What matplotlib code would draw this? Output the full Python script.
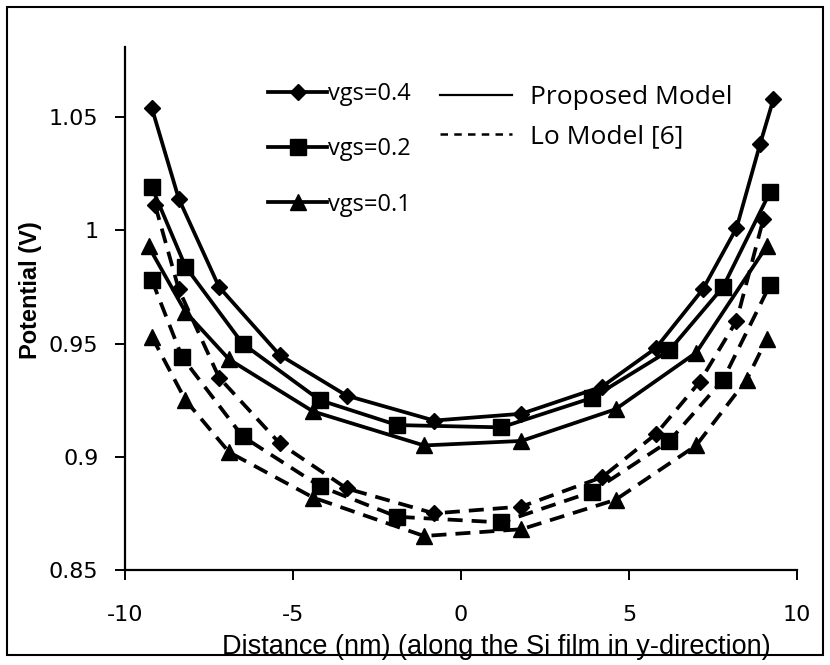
import matplotlib
matplotlib.use("Agg")
import matplotlib.pyplot as plt
from matplotlib.lines import Line2D
from matplotlib.patches import Rectangle

# Proposed model (solid lines)
p04_x = [-9.2, -8.4, -7.2, -5.4, -3.4, -0.8, 1.8, 4.2, 5.8, 7.2, 8.2, 8.9, 9.3]
p04_y = [1.054, 1.014, 0.975, 0.945, 0.927, 0.916, 0.919, 0.931, 0.948, 0.974, 1.001, 1.038, 1.058]
p02_x = [-9.2, -8.2, -6.5, -4.2, -1.9, 1.2, 3.9, 6.2, 7.8, 9.2]
p02_y = [1.019, 0.984, 0.950, 0.925, 0.914, 0.913, 0.926, 0.947, 0.975, 1.017]
p01_x = [-9.3, -8.2, -6.9, -4.4, -1.1, 1.8, 4.6, 7.0, 9.1]
p01_y = [0.993, 0.964, 0.943, 0.920, 0.905, 0.907, 0.921, 0.946, 0.993]

# Lo model [6] (dashed lines)
l04_x = [-9.1, -8.4, -7.2, -5.4, -3.4, -0.8, 1.8, 4.2, 5.8, 7.1, 8.2, 9.0]
l04_y = [1.011, 0.974, 0.935, 0.906, 0.886, 0.875, 0.878, 0.891, 0.910, 0.933, 0.960, 1.005]
l02_x = [-9.2, -8.3, -6.5, -4.2, -1.9, 1.2, 3.9, 6.2, 7.8, 9.2]
l02_y = [0.978, 0.944, 0.909, 0.887, 0.8735, 0.871, 0.8845, 0.907, 0.934, 0.976]
l01_x = [-9.2, -8.2, -6.9, -4.4, -1.1, 1.8, 4.6, 7.0, 8.5, 9.1]
l01_y = [0.953, 0.925, 0.902, 0.882, 0.865, 0.868, 0.881, 0.905, 0.934, 0.952]

vgs_labels = ["vgs=0.4", "vgs=0.2", "vgs=0.1"]
model_labels = ["Proposed Model", "Lo Model [6]"]
x_ticks = [-10, -5, 0, 5, 10]
y_ticks = [0.85, 0.9, 0.95, 1.0, 1.05]
y_ticklabels = ["0.85", "0.9", "0.95", "1", "1.05"]

markers = {"D": 8.5, "s": 12, "^": 12}
LW = 2.7
DASH = (4, 2.4)

fig = plt.figure(figsize=(8.3, 6.65), dpi=100)
ax = fig.add_axes([0.1506, 0.1429, 0.8096, 0.7864])

solid = [(p04_x, p04_y, "D"), (p02_x, p02_y, "s"), (p01_x, p01_y, "^")]
dashed = [(l04_x, l04_y, "D"), (l02_x, l02_y, "s"), (l01_x, l01_y, "^")]

for xs, ys, m in dashed:
    ax.plot(xs, ys, color="black", lw=LW, linestyle=(0, DASH),
            marker=m, markersize=markers[m], markerfacecolor="black",
            markeredgecolor="black")
for xs, ys, m in solid:
    ax.plot(xs, ys, color="black", lw=LW, marker=m,
            markersize=markers[m], markerfacecolor="black",
            markeredgecolor="black")

ax.set_xlim(-10, 10)
ax.set_ylim(0.85, 1.081)
ax.set_xticks(x_ticks)
ax.set_xticklabels([str(t) for t in x_ticks])
ax.set_yticks(y_ticks)
ax.set_yticklabels(y_ticklabels)

for s in ["top", "right"]:
    ax.spines[s].set_visible(False)
for s in ["left", "bottom"]:
    ax.spines[s].set_linewidth(1.6)

ax.tick_params(axis="both", direction="out", length=7, width=1.4,
               labelsize=16)
ax.tick_params(axis="y", pad=12)
ax.tick_params(axis="x", pad=18)
for lab in ax.get_xticklabels() + ax.get_yticklabels():
    lab.set_family("DejaVu Sans")

ax.set_ylabel("Potential (V)", fontsize=17, fontweight="bold",
              family="Liberation Sans")
ax.yaxis.set_label_coords(-0.124, 0.535)
ax.set_xlabel("Distance (nm) (along the Si film in y-direction)",
              fontsize=19.5, family="Liberation Sans")
ax.xaxis.set_label_coords(0.552, -0.122)

# legend for the three gate voltages
vgs_handles = [
    Line2D([], [], color="black", lw=LW, marker=m, markersize=markers[m])
    for m in ["D", "s", "^"]
]
leg1 = ax.legend(vgs_handles, vgs_labels, loc="upper left",
                 bbox_to_anchor=(0.213, 0.9335), frameon=False,
                 prop={"family": "Open Sans", "size": 17},
                 handlelength=2.5, handletextpad=0.05, labelspacing=1.33,
                 borderpad=0, borderaxespad=0)
ax.add_artist(leg1)

model_handles = [
    Line2D([], [], color="black", lw=1.6),
    Line2D([], [], color="black", lw=1.8, linestyle=(0, (3, 2.5))),
]
ax.legend(model_handles, model_labels, loc="upper left",
          bbox_to_anchor=(0.469, 0.9266), frameon=False,
          prop={"family": "Open Sans", "size": 19},
          handlelength=2.73, handletextpad=0.68, labelspacing=0.51,
          borderpad=0, borderaxespad=0)

# outer frame around the whole picture
fig.patches.append(Rectangle((0.008, 0.015), 0.984, 0.975, transform=fig.transFigure,
                             fill=False, edgecolor="black", lw=1.5))

fig.savefig("out.png", dpi=100)
